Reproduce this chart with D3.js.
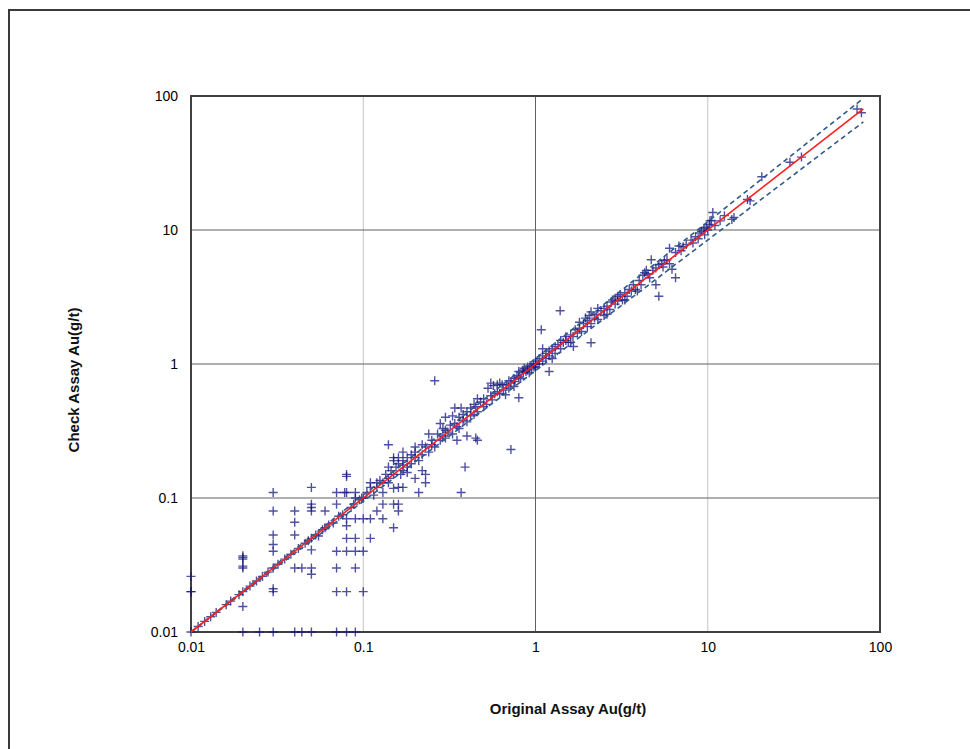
<!DOCTYPE html>
<html>
<head>
<meta charset="utf-8">
<script src="https://cdn.jsdelivr.net/npm/d3@7"></script>
<style>
  body { margin: 0; background: #fff; }
  svg { display: block; font-family: "Liberation Sans", Arial, sans-serif; }
</style>
</head>
<body>
<script>
// tick values / labels (same on both log axes)
const tickValues = [0.01, 0.1, 1, 10, 100];
const tickLabels = ["0.01", "0.1", "1", "10", "100"];

// [original, check] pairs, Au g/t
const lowGrade = [
  [0.01,0.026],[0.01,0.02],[0.01,0.02],[0.01,0.01],
  [0.02,0.037],[0.02,0.036],[0.02,0.035],[0.02,0.031],[0.02,0.03],[0.02,0.02],[0.02,0.0155],[0.02,0.01],
  [0.025,0.01],[0.03,0.01],[0.03,0.11],[0.03,0.08],[0.03,0.053],[0.03,0.045],[0.03,0.04],[0.03,0.03],[0.03,0.021],[0.03,0.02],
  [0.04,0.08],[0.04,0.066],[0.04,0.053],[0.04,0.03],[0.04,0.01],[0.044,0.03],[0.044,0.01],
  [0.05,0.12],[0.05,0.09],[0.05,0.085],[0.05,0.08],[0.05,0.05],[0.05,0.041],[0.05,0.03],[0.05,0.027],[0.05,0.01],
  [0.06,0.08],[0.06,0.06],[0.055,0.052],
  [0.07,0.11],[0.07,0.09],[0.07,0.04],[0.07,0.03],[0.07,0.02],[0.07,0.01],
  [0.08,0.15],[0.08,0.145],[0.08,0.11],[0.08,0.07],[0.08,0.062],[0.08,0.05],[0.08,0.04],[0.08,0.02],[0.08,0.01],
  [0.09,0.11],[0.09,0.1],[0.09,0.07],[0.09,0.05],[0.09,0.04],[0.09,0.03],[0.09,0.01],
  [0.1,0.04],[0.1,0.02],
  [0.011,0.011],[0.012,0.012],[0.013,0.013],[0.014,0.014],[0.016,0.016],[0.017,0.017],[0.019,0.019],
  [0.022,0.022],[0.024,0.024],[0.026,0.026],[0.028,0.028],[0.032,0.032],[0.035,0.035],[0.038,0.038],
  [0.042,0.042],[0.046,0.046],[0.048,0.048],[0.053,0.053],[0.058,0.058],[0.063,0.063],[0.067,0.065],
  [0.072,0.073],[0.076,0.075],[0.085,0.085],[0.088,0.09],[0.095,0.097],[0.098,0.1]
];

const midGrade = [
  [0.11,0.13],[0.12,0.13],[0.14,0.13],[0.15,0.118],[0.17,0.12],[0.21,0.11],[0.23,0.13],[0.13,0.09],
  [0.15,0.09],[0.16,0.09],[0.16,0.08],[0.12,0.08],[0.13,0.07],[0.15,0.06],[0.11,0.05],[0.1,0.07],[0.11,0.07],
  [0.26,0.75],[0.14,0.25],[0.72,0.23],[0.39,0.17],[0.37,0.11],[0.45,0.28],[0.46,0.27],[0.35,0.27],[0.4,0.29],
  [0.22,0.16],[0.23,0.15],[0.2,0.14],[0.18,0.155],[0.16,0.12],[0.13,0.11],[0.078,0.11],
  [0.34,0.47],[0.37,0.47],[0.46,0.55],[0.55,0.72],[0.57,0.69],[0.53,0.66],[0.67,0.59],[0.29,0.33],
  [0.2,0.24],[0.17,0.22],[0.3,0.4],[0.8,0.56],[0.15,0.2],[0.17,0.176],
  [0.1,0.1],[0.105,0.11],[0.11,0.12],[0.115,0.105],[0.12,0.12],[0.125,0.135],[0.13,0.13],[0.135,0.15],
  [0.14,0.14],[0.14,0.17],[0.145,0.16],[0.15,0.15],[0.15,0.19],[0.155,0.17],[0.16,0.18],[0.16,0.2],
  [0.165,0.15],[0.17,0.19],[0.17,0.16],[0.18,0.2],[0.18,0.17],[0.19,0.21],[0.19,0.18],[0.2,0.2],
  [0.2,0.22],[0.21,0.19],[0.22,0.25],[0.22,0.21],[0.23,0.24],[0.24,0.22],[0.25,0.27],[0.25,0.25],
  [0.26,0.24],[0.27,0.3],[0.28,0.27],[0.29,0.29],[0.3,0.32],[0.3,0.28],[0.31,0.31],[0.32,0.35],
  [0.33,0.3],[0.34,0.36],[0.35,0.34],[0.36,0.4],[0.36,0.33],[0.38,0.38],[0.38,0.42],[0.4,0.37],
  [0.4,0.44],[0.42,0.41],[0.42,0.47],[0.44,0.42],[0.45,0.48],[0.46,0.44],[0.48,0.52],[0.5,0.48],
  [0.5,0.55],[0.52,0.5],[0.55,0.58],[0.56,0.54],[0.58,0.6],[0.6,0.62],[0.62,0.6],[0.64,0.7],
  [0.65,0.64],[0.68,0.7],[0.7,0.66],[0.7,0.75],[0.72,0.72],[0.75,0.78],[0.76,0.74],[0.78,0.82],
  [0.8,0.8],[0.8,0.88],[0.82,0.78],[0.84,0.9],[0.85,0.86],[0.86,0.93],[0.88,0.88],[0.9,0.95],
  [0.9,0.9],[0.92,0.86],[0.93,0.97],[0.95,0.92],[0.97,1.0],[0.98,0.95],
  [0.24,0.3],[0.33,0.41],[0.28,0.36],[0.44,0.5],[0.6,0.7],[0.75,0.68],[0.62,0.72]
];

const highGrade = [
  [1.0,1.0],[1.0,0.95],[1.02,1.05],[1.05,1.0],[1.05,1.1],[1.08,1.8],[1.1,1.05],[1.1,1.15],[1.15,1.2],
  [1.15,1.1],[1.2,0.88],[1.2,1.25],[1.2,1.15],[1.25,1.3],[1.3,1.2],[1.3,1.35],[1.35,1.4],[1.39,2.5],
  [1.4,1.3],[1.4,1.5],[1.45,1.45],[1.5,1.6],[1.5,1.5],[1.55,1.45],[1.6,1.65],[1.66,1.35],[1.65,1.6],
  [1.7,1.8],[1.75,1.7],[1.8,1.85],[1.85,1.75],[1.9,2.0],[1.95,2.2],[2.0,1.9],[2.0,2.1],[2.05,2.3],
  [2.1,1.44],[2.1,2.45],[2.1,2.0],[2.2,2.2],[2.25,2.35],[2.3,2.15],[2.4,2.5],[2.5,2.3],[2.5,2.6],
  [2.6,2.7],[2.7,2.55],[2.75,2.9],[2.8,3.0],[2.9,3.1],[2.9,2.8],[3.0,3.2],[3.0,2.95],[3.1,3.3],
  [3.2,3.0],[3.3,3.4],[3.4,3.2],[3.5,3.6],[3.6,3.5],[3.7,3.9],[3.8,3.6],[4.0,4.2],[4.1,3.9],
  [4.2,4.6],[4.3,4.8],[4.4,5.0],[4.5,4.7],[4.7,6.0],[4.6,4.4],[4.8,5.0],[5.0,3.9],[5.0,5.2],
  [5.2,3.2],[5.2,5.5],[5.4,5.6],[5.5,5.3],[5.6,5.9],[5.8,6.0],[6.0,7.3],[6.0,5.6],[6.2,5.1],
  [6.5,4.4],[6.5,6.8],[6.8,7.6],[7.0,7.0],[7.2,7.5],[7.5,7.8],[8.0,8.4],[8.2,8.0],[8.5,8.9],
  [8.8,8.6],[9.0,9.5],[9.2,9.8],[9.5,10.3],[9.6,9.2],[9.8,10.5],[10.0,10.0],[10.2,11.0],[10.3,11.7],
  [10.5,11.8],[10.7,13.5],[11.0,10.8],[11.8,11.7],[12.5,12.8],
  [13.8,12.0],[14.2,12.4],[17.0,16.9],[17.6,16.5],[20.6,25],[30,32],[35,35],[73.6,80],[78,75],
  [1.25,1.1],[1.6,1.45],[2.3,2.6],[2.6,2.35],[3.3,3.0],[3.9,3.5],[1.1,1.3],[1.8,2.05]
];

// x=y line and the +/-20% envelope lines (two points each)
const equalLine = [[0.01,0.01],[80,80]];
const upperLine = [[0.01,0.01],[80,96]];
const lowerLine = [[0.01,0.01],[80,64]];

const width = 970, height = 749;
const svg = d3.select("body").append("svg")
  .attr("width", width)
  .attr("height", height);

// outer frame (left + top edges visible)
svg.append("path")
  .attr("d", "M9,749V10H970")
  .attr("fill", "none")
  .attr("stroke", "#3a3a3a")
  .attr("stroke-width", 2);

const x = d3.scaleLog().domain([0.01, 100]).range([191, 880]);
const y = d3.scaleLog().domain([0.01, 100]).range([632, 96]);

// gridlines
svg.append("g").selectAll("line")
  .data(tickValues.slice(1, -1))
  .join("line")
  .attr("x1", d => x(d)).attr("x2", d => x(d))
  .attr("y1", y(100)).attr("y2", y(0.01))
  .attr("stroke", d => d === 1 ? "#606060" : "#c4c4c4")
  .attr("stroke-width", 1);

svg.append("g").selectAll("line")
  .data(tickValues.slice(1, -1))
  .join("line")
  .attr("x1", x(0.01)).attr("x2", x(100))
  .attr("y1", d => y(d)).attr("y2", d => y(d))
  .attr("stroke", "#606060")
  .attr("stroke-width", 1);

// plot frame
svg.append("rect")
  .attr("x", x(0.01)).attr("y", y(100))
  .attr("width", x(100) - x(0.01))
  .attr("height", y(0.01) - y(100))
  .attr("fill", "none")
  .attr("stroke", "#404040")
  .attr("stroke-width", 2);

// points as "+" markers
const allPairs = lowGrade.concat(midGrade, highGrade);
svg.append("g").selectAll("path")
  .data(allPairs)
  .join("path")
  .attr("d", d => {
    const px = x(d[0]), py = y(d[1]);
    return `M${px - 4.5},${py}H${px + 4.5}M${px},${py - 4.5}V${py + 4.5}`;
  })
  .attr("stroke", "#161680")
  .attr("stroke-opacity", 0.75)
  .attr("stroke-width", 1.4);

const line = d3.line().x(d => x(d[0])).y(d => y(d[1]));

svg.append("g").selectAll("path")
  .data([upperLine, lowerLine])
  .join("path")
  .attr("d", line)
  .attr("fill", "none")
  .attr("stroke", "#2f5b88")
  .attr("stroke-width", 1.6)
  .attr("stroke-dasharray", "5,3.5");

svg.append("path")
  .attr("d", line(equalLine))
  .attr("fill", "none")
  .attr("stroke", "#ff1f1f")
  .attr("stroke-width", 1.6);

// axis labels
const fmt = d => tickLabels[tickValues.indexOf(d)];
const xAxis = svg.append("g")
  .attr("transform", `translate(0,${y(0.01)})`)
  .call(d3.axisBottom(x).tickValues(tickValues).tickFormat(fmt).tickSize(0).tickPadding(10));
const yAxis = svg.append("g")
  .attr("transform", `translate(${x(0.01)},0)`)
  .call(d3.axisLeft(y).tickValues(tickValues).tickFormat(fmt).tickSize(0).tickPadding(13));
[xAxis, yAxis].forEach(g => {
  g.select(".domain").remove();
  g.selectAll("text").attr("font-size", 14).attr("fill", "#000")
    .attr("font-family", "Liberation Sans, Arial, sans-serif");
});

// axis titles
svg.append("text")
  .attr("x", 568).attr("y", 714)
  .attr("text-anchor", "middle")
  .attr("font-size", 15).attr("font-weight", "bold")
  .attr("fill", "#111")
  .text("Original Assay Au(g/t)");

svg.append("text")
  .attr("transform", "translate(79,380) rotate(-90)")
  .attr("text-anchor", "middle")
  .attr("font-size", 15).attr("font-weight", "bold")
  .attr("fill", "#111")
  .text("Check Assay Au(g/t)");
</script>
</body>
</html>
